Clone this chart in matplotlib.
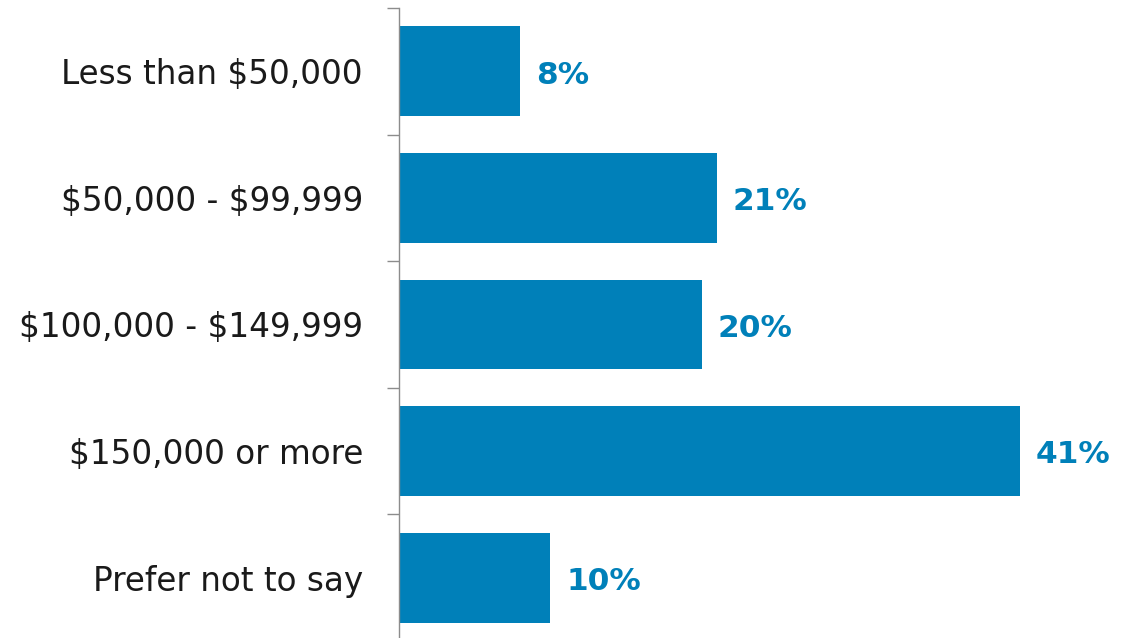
import matplotlib
matplotlib.use('Agg')
import matplotlib.pyplot as plt
import numpy as np

plt.rcParams['text.parse_math'] = False
plt.rcParams['font.family'] = ['DejaVu Sans']

categories = ["Less than $50,000", "$50,000 - $99,999", "$100,000 - $149,999",
              "$150,000 or more", "Prefer not to say"]
shares = [8, 21, 20, 41, 10]

bar_color = "#0080B9"

fig = plt.figure(figsize=(11.3, 6.38), dpi=100)
ax = fig.add_axes([399 / 1130, -3 / 638, 731 / 1130, 633 / 638])

pos = np.arange(len(categories))
ax.barh(pos, shares, height=0.71, color=bar_color)
ax.set_ylim(len(categories) - 0.5, -0.5)
ax.set_xlim(0, 48.3)

for y, v in zip(pos, shares):
    ax.text(v + 1.05, y + 0.03, f"{v}%", va="center", ha="left", fontsize=22.5,
            fontweight="bold", color=bar_color)

# category names sit at centres, tick marks sit at the boundaries
ax.set_yticks(pos)
ax.set_yticklabels(categories, fontsize=23.5, color="#1a1a1a")
ax.tick_params(axis="y", which="major", length=0, pad=26)
ax.set_yticks(np.arange(len(categories) + 1) - 0.5, minor=True)
ax.tick_params(axis="y", which="minor", length=8.6, width=1, color="#8c8c8c")

ax.set_xticks([])
for side in ["top", "right", "bottom"]:
    ax.spines[side].set_visible(False)
ax.spines["left"].set_color("#8c8c8c")
ax.spines["left"].set_linewidth(1)

fig.savefig("out.png", dpi=100)
plt.close(fig)
